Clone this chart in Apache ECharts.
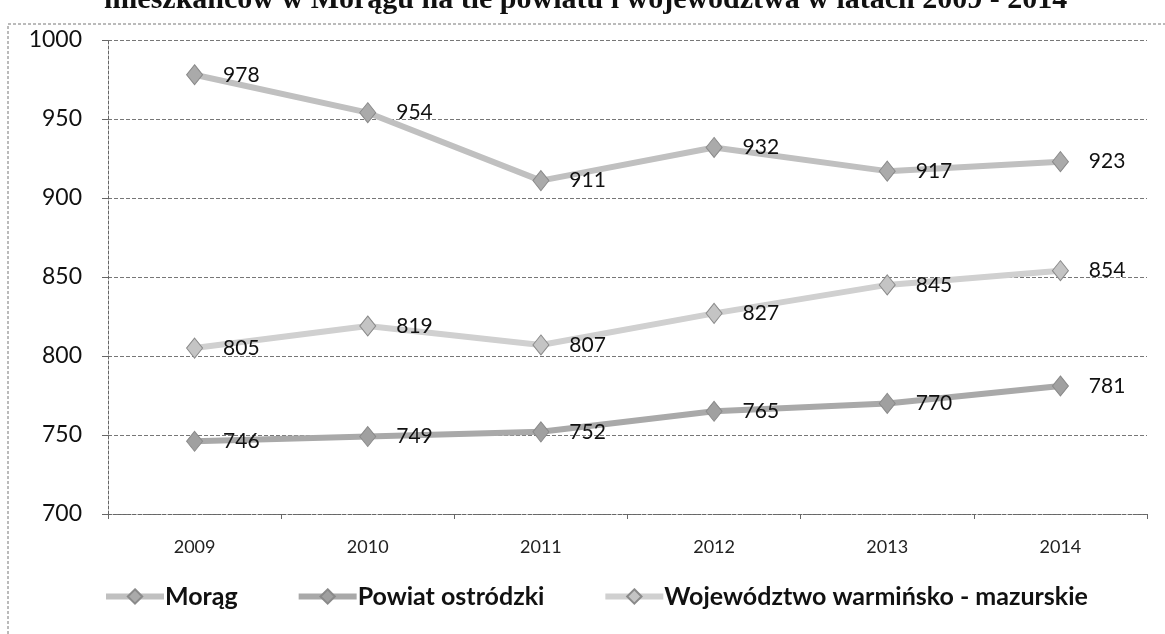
<!DOCTYPE html>
<html>
<head>
<meta charset="utf-8">
<script src="https://cdn.jsdelivr.net/npm/echarts@6/dist/echarts.min.js"></script>
<style>
  html, body { margin: 0; padding: 0; background: #fff; }
  #chart { width: 1165px; height: 634px; }
</style>
</head>
<body>
<div id="chart"></div>
<script>
var years = ['2009', '2010', '2011', '2012', '2013', '2014'];
var morag = [978, 954, 911, 932, 917, 923];
var powiat = [746, 749, 752, 765, 770, 781];
var wojewodztwo = [805, 819, 807, 827, 845, 854];
var seriesNames = ['Morąg', 'Powiat ostródzki', 'Województwo warmińsko - mazurskie'];
var titleText = 'mieszkańców w Morągu na tle powiatu i województwa w latach 2009 - 2014';

var chart = echarts.init(document.getElementById('chart'));

// wspólny wygląd serii
function makeSeries(name, data, lineColor, markColor) {
    return {
        name: name,
        type: 'line',
        data: data,
        symbol: 'diamond',
        symbolSize: [16, 20],
        lineStyle: { color: lineColor, width: 6 },
        itemStyle: { color: markColor, borderColor: '#8a8a8a', borderWidth: 1 },
        label: {
            show: true,
            position: 'right',
            distance: 20,
            color: '#111',
            fontFamily: 'Lato',
            fontSize: 21
        },
        emphasis: { disabled: true }
    };
}

var option = {
    backgroundColor: '#fff',
    animation: false,
    graphic: [
        {
            type: 'rect',
            shape: { x: 8, y: 24, width: 1200, height: 700 },
            style: { fill: 'none', stroke: '#777', lineWidth: 1, lineDash: [3, 2] }
        },
        {
            type: 'text',
            left: 104,
            top: -15,
            style: {
                text: titleText,
                font: 'bold 30px "Liberation Serif"',
                fill: '#111'
            }
        }
    ],
    grid: { left: 108, right: 18, top: 40, bottom: 120 },
    legend: {
        bottom: 20,
        left: 98,
        itemWidth: 58,
        itemHeight: 18,
        itemGap: 58,
        lineStyle: { width: 6 },
        textStyle: { fontFamily: 'Lato', fontWeight: 'bold', fontSize: 25, color: '#111', padding: [0, 0, 0, -4] },
        data: seriesNames
    },
    xAxis: {
        type: 'category',
        data: years,
        boundaryGap: true,
        axisLine: { lineStyle: { color: '#666', type: [3, 2] } },
        axisTick: { show: true, length: 5, lineStyle: { color: '#666' } },
        axisLabel: { color: '#222', fontFamily: 'Lato', fontSize: 18, margin: 24 }
    },
    yAxis: {
        type: 'value',
        min: 700,
        max: 1000,
        interval: 50,
        axisLine: { show: true, lineStyle: { color: '#666', type: [3, 2] } },
        axisTick: { show: true, inside: false, length: 6, lineStyle: { color: '#666' } },
        axisLabel: {
            color: '#111',
            fontFamily: 'Lato',
            fontSize: 23,
            margin: 26,
            formatter: function (v) { return String(v); }
        },
        splitLine: { lineStyle: { color: '#777', type: [4, 2], width: 1 } }
    },
    series: [
        makeSeries(seriesNames[0], morag, '#c0c0c0', '#aaaaaa'),
        makeSeries(seriesNames[1], powiat, '#a9a9a9', '#a0a0a0'),
        makeSeries(seriesNames[2], wojewodztwo, '#d0d0d0', '#c4c4c4')
    ]
};

chart.setOption(option);
</script>
</body>
</html>
